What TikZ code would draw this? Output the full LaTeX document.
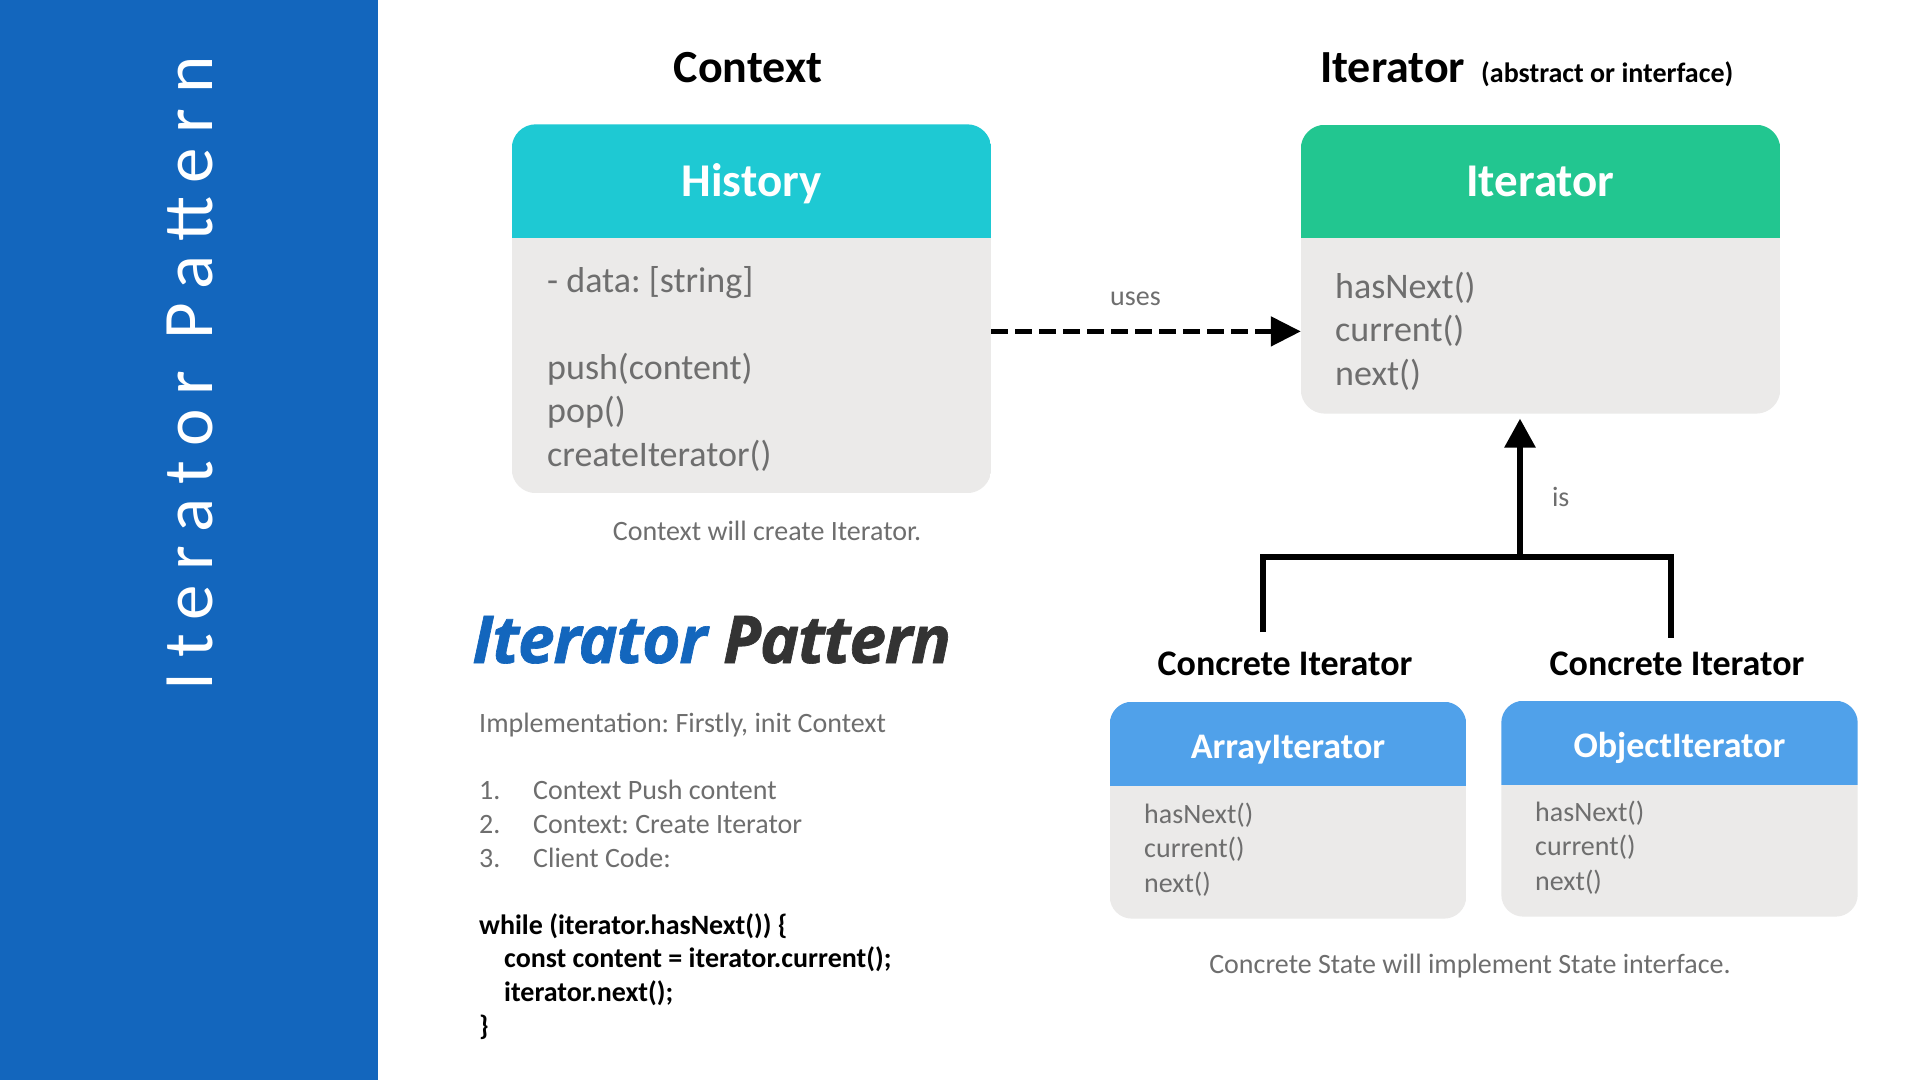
\documentclass[tikz,border=0pt]{standalone}
\usepackage{fontspec}
\setmainfont{Carlito}
\newfontfamily\titlefont{Open Sans}
\usetikzlibrary{arrows.meta,positioning,backgrounds}
\definecolor{sidebar}{HTML}{1366BD}
\definecolor{histcyan}{HTML}{1EC9D3}
\definecolor{itgreen}{HTML}{22C690}
\definecolor{concblue}{HTML}{50A1EA}
\definecolor{bodygray}{HTML}{EBEAE9}
\definecolor{textgray}{HTML}{6E6E6E}
\definecolor{darkgray}{HTML}{333333}
\tikzset{
  classhead/.style={font=\fontsize{47}{56}\selectfont\bfseries,text=white,inner sep=0pt,minimum width=479pt,minimum height=113pt,text height=30pt,text depth=0pt},
  conchead/.style={classhead,font=\fontsize{36}{43}\selectfont\bfseries,minimum width=356pt,minimum height=84pt,text height=29pt},
  classbody/.style={inner sep=0pt,minimum width=479pt},
  concbody/.style={classbody,minimum width=356pt},
  members/.style={font=\fontsize{36}{43.5}\selectfont,text=textgray,align=left,anchor=north west,inner sep=0pt},
  concmembers/.style={members,font=\fontsize{28}{34.5}\selectfont},
  heading/.style={font=\fontsize{46}{55}\selectfont\bfseries,inner sep=0pt,anchor=base},
  subheading/.style={heading,font=\fontsize{36}{43}\selectfont\bfseries},
  caption/.style={font=\fontsize{28}{33}\selectfont,text=textgray,inner sep=0pt,anchor=base},
  note/.style={font=\fontsize{28}{34}\selectfont,text=textgray,inner sep=0pt,anchor=base west},
  code/.style={font=\fontsize{28}{33.7}\selectfont\bfseries,align=left,anchor=north west,inner sep=0pt},
  sidetext/.style={font={\fontsize{71}{80}\selectfont\addfontfeatures{LetterSpace=20.5}},text=white,rotate=90,inner sep=0pt,text height=46pt,text depth=0pt},
  bigtitle/.style={font={\titlefont\fontsize{66}{78}\selectfont\bfseries\itshape\addfontfeatures{LetterSpace=-2,FakeBold=1}},text=darkgray,anchor=base west,inner sep=0pt},
  uses/.style={-{Triangle[length=30pt,width=29pt]},line width=5pt,dash pattern=on 17pt off 7pt},
  link/.style={line width=6pt},
  isa/.style={link,-{Triangle[length=29pt,width=30pt]}}
}
\begin{document}
\frenchspacing
\begin{tikzpicture}[x=1pt,y=-1pt]
\useasboundingbox (0,0) rectangle (1920,1080);

\node[sidetext] (sidetitle) at (189.5,373.5) {Iterator Pattern};

% context side
\node[heading] (ctxtitle) at (748,82) {Context};
\node[classhead] (histhead) at (751.5,181) {History};
\node[classbody,minimum height=255pt,below=0pt of histhead] (histbody) {};
\node[members] (histmembers) at (547,261.5) {\strut - data: [string]\\ \mbox{}\\ push(content)\\ pop()\\ createIterator()};
\node[caption] (histnote) at (767,540) {Context will create Iterator.};

% iterator side
\node[heading,anchor=base west] (ittitle) at (1320,82) {Iterator\hspace{16pt}{\fontsize{28}{33}\selectfont(abstract or interface)}};
\node[classhead] (ithead) at (1540.5,181.5) {Iterator};
\node[classbody,minimum height=175pt,below=0pt of ithead] (itbody) {};
\node[members] (itmembers) at (1335,267.5) {\strut hasNext()\\ current()\\ next()};

% concrete iterators
\node[subheading] (arrlabel) at (1285,675) {Concrete Iterator};
\node[subheading] (objlabel) at (1677,675) {Concrete Iterator};
\node[conchead] (arrhead) at (1288,744) {ArrayIterator};
\node[concbody,minimum height=132pt,below=0pt of arrhead] (arrbody) {};
\node[concmembers] (arrmembers) at (1144,798.9) {\strut hasNext()\\ current()\\ next()};
\node[conchead] (objhead) at (1679.5,743) {ObjectIterator};
\node[concbody,minimum height=131pt,below=0pt of objhead] (objbody) {};
\node[concmembers] (objmembers) at (1535,796.9) {\strut hasNext()\\ current()\\ next()};
\node[caption] (concnote) at (1470,973) {Concrete State will implement State interface.};

% left column
\node[bigtitle] (pattitle) at (472,663) {\textcolor{sidebar}{Iterator} Pattern};
\node[note] (impl) at (479,732) {Implementation: Firstly, init Context};
\foreach \n/\t [count=\i] in {1./Context Push content, 2./Context: Create Iterator, 3./Client Code:}{
  \node[note] (num\i) at (479,765+34*\i) {\n};
  \node[note] (step\i) at (533,765+34*\i) {\t};
}
\node[code] (clientcode) at (479,910.4) {\strut while (iterator.hasNext()) \{\\ \hspace*{25pt}const content = iterator.current();\\ \hspace*{25pt}iterator.next();\\ \}};

% connectors
\draw[uses] ([yshift=-5.5pt]itbody.west -| histbody.east) -- ([yshift=-5.5pt]itbody.west) node[caption,pos=0.466,above=23pt] (useslabel) {uses};
\coordinate (fork) at (1520,557);
\coordinate (arrleg) at (1263,632);
\coordinate (objleg) at (1671,638);
\draw[link] (arrleg) |- (fork) -| (objleg);
\draw[isa,shorten >=5pt] (fork) -- (itbody.south -| fork) node[caption,pos=0.42,right=29pt] (islabel) {is};

% backgrounds
\begin{scope}[on background layer]
\fill[white] (0,0) rectangle (1920,1080);
\fill[sidebar] (0,0) rectangle (378,1080);
\foreach \c/\col/\r in {hist/histcyan/24, it/itgreen/24, arr/concblue/22, obj/concblue/22}{
  \begin{scope}
    \clip[rounded corners=\r pt] (\c head.north west) rectangle (\c body.south east);
    \fill[bodygray] (\c body.north west) rectangle (\c body.south east);
    \fill[\col] (\c head.north west) rectangle (\c head.south east);
  \end{scope}
}
\end{scope}
\end{tikzpicture}
\end{document}
